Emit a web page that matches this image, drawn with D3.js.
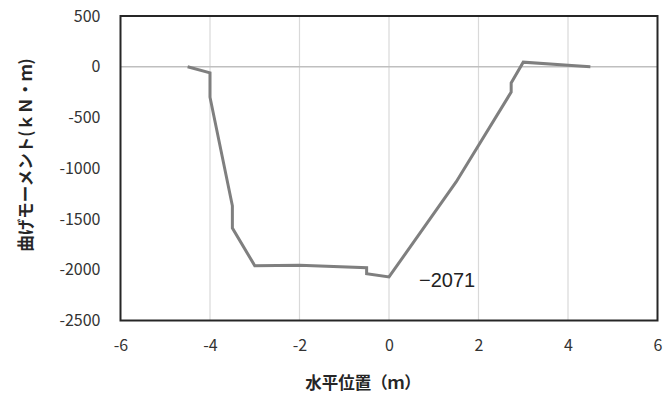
<!DOCTYPE html>
<html><head><meta charset="utf-8">
<script src="https://cdn.jsdelivr.net/npm/d3@7"></script>
<style>body{margin:0;background:#fff}svg{display:block}</style>
</head><body>
<svg id="c" width="664" height="397"></svg>
<script>
const xPos = [-4.5, -4.0, -4.0, -3.5, -3.5, -3.0, -2.0, -0.5, -0.5, 0, 1.5, 2.73, 2.73, 3.0, 4.0, 4.5];
const moment = [0, -60, -300, -1370, -1590, -1960, -1955, -1980, -2040, -2071, -1135, -250, -160, 45, 15, 0];
const xTicks = [-6, -4, -2, 0, 2, 4, 6];
const yTicks = [500, 0, -500, -1000, -1500, -2000, -2500];
const annotation = {x: 0, y: -2071, text: "\u22122071"};
const xTitle = "水平位置（ｍ）";
const yTitle = "曲げモーメント(ｋＮ・ｍ)";

const svg = d3.select("#c");
const L = 120.5, R = 657.5, T = 16, B = 320.5;
const x = d3.scaleLinear().domain([-6, 6]).range([L, R]);
const y = d3.scaleLinear().domain([-2500, 500]).range([B, T]);

// vertical gridlines
svg.append("g").selectAll("line").data(xTicks.slice(1, -1)).join("line")
  .attr("x1", d => x(d)).attr("x2", d => x(d)).attr("y1", T).attr("y2", B)
  .attr("stroke", "#d9d9d9").attr("stroke-width", 1.2);
// zero horizontal line
svg.append("line").attr("x1", L).attr("x2", R).attr("y1", y(0)).attr("y2", y(0))
  .attr("stroke", "#bfbfbf").attr("stroke-width", 1.5);

// data line
const line = d3.line().x((d, i) => x(xPos[i])).y(d => y(d));
svg.append("path").datum(moment).attr("d", line)
  .attr("fill", "none").attr("stroke", "#7f7f7f").attr("stroke-width", 3)
  .attr("stroke-linejoin", "miter");

// frame
svg.append("rect").attr("x", L).attr("y", T).attr("width", R - L).attr("height", B - T)
  .attr("fill", "none").attr("stroke", "#262626").attr("stroke-width", 2);

// axes ticks labels
const xAxis = d3.axisBottom(x).tickValues(xTicks).tickSize(0).tickPadding(19).tickFormat(d3.format("d"));
const gx = svg.append("g").attr("transform", `translate(0,${B})`).call(xAxis);
const yAxis = d3.axisLeft(y).tickValues(yTicks).tickSize(0).tickPadding(20).tickFormat(d => String(d));
const gy = svg.append("g").attr("transform", `translate(${L},0)`).call(yAxis);
[gx, gy].forEach(g => {
  g.select(".domain").remove();
  g.selectAll("text").attr("font-family", "'Noto Sans CJK JP', 'Noto Sans', sans-serif")
    .attr("font-size", 16).attr("fill", "#333");
});
gx.selectAll("text").text(d => d < 0 ? "-" + Math.abs(d) : String(d));
gy.selectAll("text").text(d => d < 0 ? "-" + Math.abs(d) : String(d));

// annotation
svg.append("text").attr("x", x(annotation.x) + 30).attr("y", 287)
  .attr("font-family", "'Liberation Sans', Arial, sans-serif").attr("font-size", 20)
  .attr("fill", "#222").text(annotation.text);

// titles
svg.append("text").attr("x", 363).attr("y", 382).attr("text-anchor", "middle")
  .attr("dominant-baseline", "central")
  .attr("font-family", "'Noto Sans CJK JP', sans-serif").attr("font-weight", "bold")
  .attr("font-size", 16.5).attr("fill", "#262626").text(xTitle);
svg.append("text").attr("transform", "translate(25,155) rotate(-90)").attr("text-anchor", "middle")
  .attr("dominant-baseline", "central")
  .attr("font-family", "'Noto Sans CJK JP', sans-serif").attr("font-weight", "bold")
  .attr("font-size", 16.5).attr("fill", "#262626").text(yTitle);
</script>
</body></html>
